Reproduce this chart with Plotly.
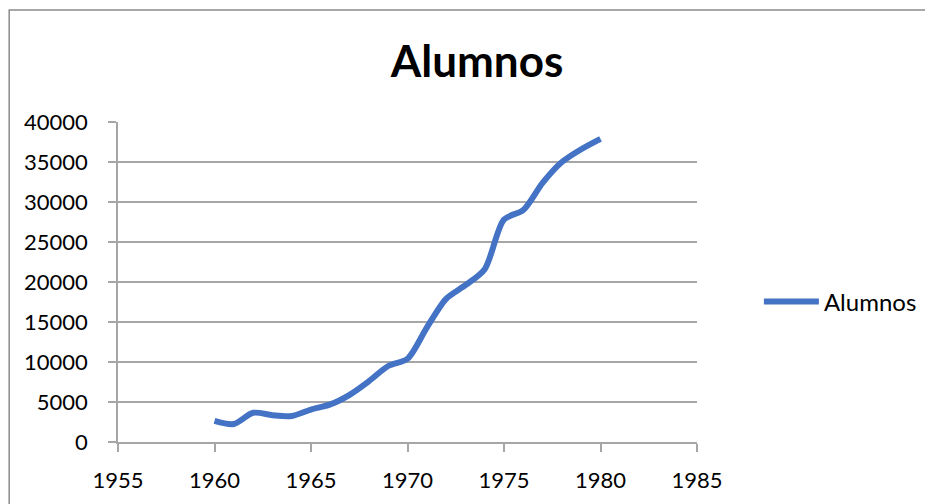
import plotly.graph_objects as go

years = list(range(1960, 1981))
alumnos = [2650, 2250, 3650, 3350, 3250, 4050, 4700, 5900, 7600, 9500, 10400,
           14300, 17900, 19600, 21600, 27800, 29000, 32400, 35000, 36600, 37900]
series_name = "Alumnos"
title_text = "Alumnos"
x_ticks = [1955, 1960, 1965, 1970, 1975, 1980, 1985]
y_ticks = [0, 5000, 10000, 15000, 20000, 25000, 30000, 35000, 40000]

fig = go.Figure()
fig.add_trace(go.Scatter(
    x=years, y=alumnos, mode="lines", name=series_name,
    line=dict(color="#4472C4", width=6, shape="spline", smoothing=0.8),
))

grid = "#a6a6a6"
W, H = 925, 496
fig.update_layout(
    width=W, height=H,
    margin=dict(l=110, r=235, t=114, b=62),
    paper_bgcolor="white", plot_bgcolor="white",
    font=dict(family="Lato", size=22, color="black"),
    title=dict(text="<b>" + title_text + "</b>", x=469 / W, xanchor="center",
               y=1 - 54 / H, yanchor="middle", font=dict(size=44, family="Lato")),
    showlegend=True,
    legend=dict(x=1.105, y=0.4375, xanchor="left", yanchor="middle",
                font=dict(size=24), itemwidth=55, bgcolor="rgba(0,0,0,0)"),
    xaxis=dict(range=[1955, 1985], tickvals=x_ticks, showgrid=False,
               showline=True, linecolor=grid, linewidth=1.5,
               ticks="outside", ticklen=8, tickcolor=grid, tickwidth=1.5,
               ticklabelstandoff=10,
               zeroline=False, fixedrange=True),
    yaxis=dict(range=[0, 40000], tickvals=y_ticks, showgrid=True,
               gridcolor=grid, gridwidth=1.5,
               showline=True, linecolor=grid, linewidth=1.5,
               ticks="outside", ticklen=8, tickcolor=grid, tickwidth=1.5,
               ticklabelstandoff=16,
               zeroline=False, fixedrange=True, tickformat="d"),
)

fig.add_shape(type="rect", xref="paper", yref="paper",
              x0=(9 - 118) / 580, x1=(945 - 118) / 580,
              y0=(442 - 515) / 320, y1=(442 - 10) / 320,
              line=dict(color="#8c8c8c", width=1.5), fillcolor="rgba(0,0,0,0)",
              layer="below")

fig.write_html("out.html")
